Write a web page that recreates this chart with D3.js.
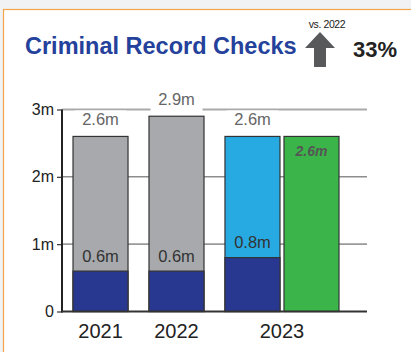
<!DOCTYPE html>
<html>
<head>
<meta charset="utf-8">
<script src="https://cdn.jsdelivr.net/npm/d3@7"></script>
<style>
	body { margin: 0; background: #f1f2f4; }
	svg { display: block; font-family: "Liberation Sans", Arial, sans-serif; }
</style>
</head>
<body>
<svg class="chart" width="411" height="352"></svg>
<script>
// chart values
const years = ["2021", "2022", "2023"]
const totals = [2.6, 2.9, 2.6] // total checks (m)
const baseValues = [0.6, 0.6, 0.8] // dark blue part (m)
const green2023 = 2.6 // extra 2023 bar
const yTicks = [0, 1, 2, 3]
const yTickLabels = ["0", "1m", "2m", "3m"]
const changeText = "33%"
const compareText = "vs. 2022"

const svg = d3.select("svg.chart")

// white card with orange edge
svg.append("rect")
	.attr("x", 3.5).attr("y", 9.5)
	.attr("width", 420).attr("height", 360)
	.attr("fill", "#fff")
	.attr("stroke", "#f2a54a")
	.attr("stroke-width", 1.2)

// header
svg.append("text")
	.attr("x", 25).attr("y", 54)
	.attr("font-size", 23.5).attr("font-weight", "bold")
	.attr("fill", "#24419b")
	.text("Criminal Record Checks")

svg.append("path")
	.attr("d", "M320,32 L335,48 L326,48 L326,67 L314,67 L314,48 L305,48 Z")
	.attr("fill", "#58595b")

svg.append("text")
	.attr("x", 327).attr("y", 28)
	.attr("text-anchor", "middle")
	.attr("font-size", 10.5).attr("letter-spacing", -0.4)
	.attr("fill", "#222")
	.text(compareText)

svg.append("text")
	.attr("x", 397).attr("y", 57)
	.attr("text-anchor", "end")
	.attr("font-size", 22).attr("font-weight", "bold")
	.attr("fill", "#222")
	.text(changeText)

// scales
const y = d3.scaleLinear()
	.domain([0, 3])
	.range([311.5, 109.5])

const x = d3.scaleBand()
	.domain(years)
	.range([62, 291])
	.paddingInner(0.276)
	.paddingOuter(0.145)

const axisLeft = 62, axisRight = 367

// gridlines
const gridColor = { 1: "#9a9a9a", 2: "#555", 3: "#aaa" }
svg.selectAll("line.grid")
	.data(yTicks.filter(d => d > 0))
	.enter()
	.append("line")
	.attr("class", "grid")
	.attr("x1", axisLeft).attr("x2", axisRight)
	.attr("y1", d => y(d)).attr("y2", d => y(d))
	.attr("stroke", d => gridColor[d])
	.attr("stroke-width", d => d === 2 ? 1 : 1.8)

// y axis
const yAxis = svg.append("g")
	.attr("transform", "translate(" + axisLeft + ",0)")
	.call(d3.axisLeft(y).tickValues(yTicks).tickSize(5).tickPadding(3)
		.tickFormat((d, i) => yTickLabels[i]))
yAxis.select(".domain").remove()
yAxis.selectAll(".tick line").attr("stroke", "#333").attr("stroke-width", 1.2)
yAxis.selectAll(".tick text")
	.attr("font-size", 16).attr("fill", "#222")
	.attr("font-family", "'Liberation Sans', Arial, sans-serif")

// top labels with white box (cuts the 3m line)
const groups = svg.selectAll("g.year")
	.data(years)
	.enter()
	.append("g")
	.attr("class", "year")

groups.append("rect")
	.attr("x", d => x(d) + x.bandwidth() / 2 - 26)
	.attr("y", (d, i) => y(totals[i]) - 26)
	.attr("width", 52)
	.attr("height", 22)
	.attr("fill", "#fff")

// total bars (gray, light blue for 2023)
groups.append("rect")
	.attr("x", d => x(d))
	.attr("y", (d, i) => y(totals[i]))
	.attr("width", x.bandwidth())
	.attr("height", (d, i) => y(0) - y(totals[i]))
	.attr("fill", d => d === "2023" ? "#27aae1" : "#a7a9ac")
	.attr("stroke", "#333")
	.attr("stroke-width", 1.2)

// base part
groups.append("rect")
	.attr("x", d => x(d))
	.attr("y", (d, i) => y(baseValues[i]))
	.attr("width", x.bandwidth())
	.attr("height", (d, i) => y(0) - y(baseValues[i]))
	.attr("fill", "#283891")
	.attr("stroke", "#333")
	.attr("stroke-width", 1.2)

groups.append("text")
	.attr("x", d => x(d) + x.bandwidth() / 2)
	.attr("y", (d, i) => y(totals[i]) - 11)
	.attr("text-anchor", "middle")
	.attr("font-size", 16.5)
	.attr("fill", "#666")
	.text((d, i) => totals[i] + "m")

groups.append("text")
	.attr("x", d => x(d) + x.bandwidth() / 2)
	.attr("y", (d, i) => y(baseValues[i]) - 9.5)
	.attr("text-anchor", "middle")
	.attr("font-size", 16.5)
	.attr("fill", "#333")
	.text((d, i) => baseValues[i] + "m")

// green 2023 bar
const gx = x("2023") + x.bandwidth() + 4
svg.append("rect")
	.attr("x", gx)
	.attr("y", y(green2023))
	.attr("width", x.bandwidth())
	.attr("height", y(0) - y(green2023))
	.attr("fill", "#3bb54a")
	.attr("stroke", "#333")
	.attr("stroke-width", 1.2)

svg.append("text")
	.attr("x", gx + x.bandwidth() / 2)
	.attr("y", y(green2023) + 20)
	.attr("text-anchor", "middle")
	.attr("font-size", 14).attr("font-weight", "bold").attr("font-style", "italic")
	.attr("fill", "#555")
	.text(green2023 + "m")

// axis lines
svg.append("line")
	.attr("x1", axisLeft).attr("x2", axisLeft)
	.attr("y1", y(3)).attr("y2", y(0) + 1)
	.attr("stroke", "#222").attr("stroke-width", 2)
svg.append("line")
	.attr("x1", axisLeft).attr("x2", axisRight)
	.attr("y1", y(0)).attr("y2", y(0))
	.attr("stroke", "#333").attr("stroke-width", 2)

// year labels (2023 centered under both bars)
svg.selectAll("text.yearlabel")
	.data(years)
	.enter()
	.append("text")
	.attr("class", "yearlabel")
	.attr("x", d => d === "2023" ? x(d) + x.bandwidth() + 2 : x(d) + x.bandwidth() / 2)
	.attr("y", 338)
	.attr("text-anchor", "middle")
	.attr("font-size", 20)
	.attr("fill", "#222")
	.text(d => d)
</script>
</body>
</html>
